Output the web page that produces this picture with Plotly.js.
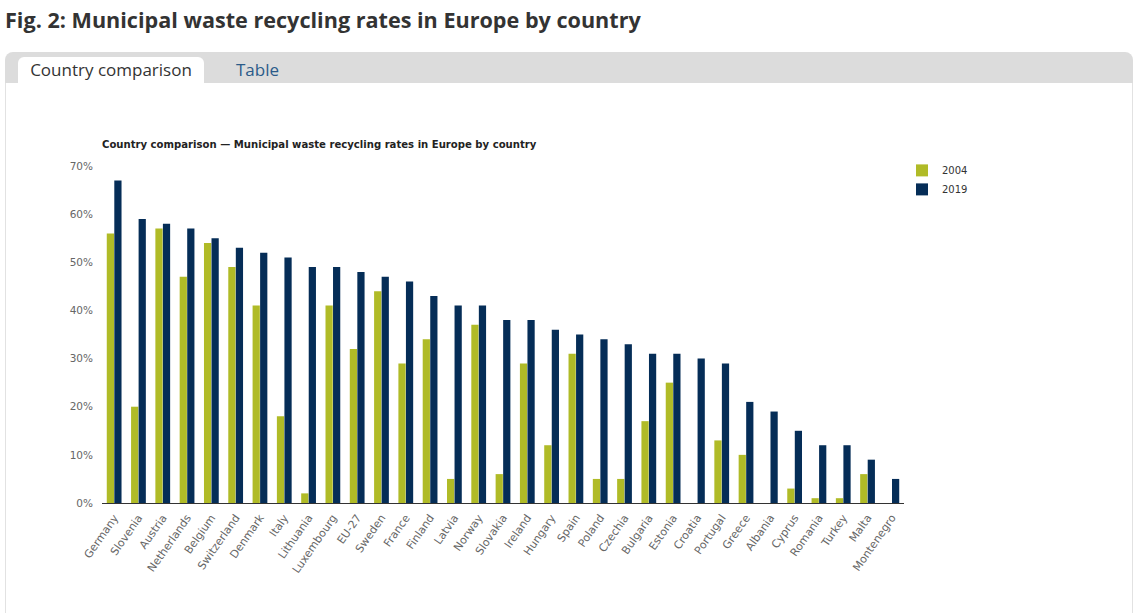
<!DOCTYPE html>
<html>
<head>
<meta charset="utf-8">
<script src="https://cdn.plot.ly/plotly-3.0.1.min.js"></script>
<style>
  html, body { margin:0; padding:0; background:#fff; width:1140px; height:613px; overflow:hidden; }
  #pagetitle { position:absolute; left:5px; top:5px; font-family:"Open Sans", sans-serif; font-weight:bold; font-size:21.6px; color:#333; white-space:nowrap; }
  #tabbar { position:absolute; left:5px; top:52px; width:1128px; height:31px; background:#dcdcdc; border-radius:8px 8px 0 0; }
  #tab1 { position:absolute; left:13px; top:5px; width:186px; height:26px; background:#fff; border-radius:6px 6px 0 0; font-family:"Open Sans", sans-serif; font-size:17px; color:#333; line-height:26px; text-align:center; }
  #tab2 { position:absolute; left:231px; top:5px; height:26px; font-family:"Open Sans", sans-serif; font-size:17px; color:#2b5b8a; line-height:26px; }
  #panel { position:absolute; left:5px; top:83px; width:1126px; height:540px; border-left:1px solid #e2e2e2; border-right:1px solid #e2e2e2; background:#fff; }
  #chart { position:absolute; left:0; top:0; width:1140px; height:613px; }
</style>
</head>
<body>
<div id="pagetitle">Fig. 2: Municipal waste recycling rates in Europe by country</div>
<div id="tabbar"><div id="tab1">Country comparison</div><div id="tab2">Table</div></div>
<div id="panel"></div>
<div id="chart"></div>
<script>
var countries = ["Germany","Slovenia","Austria","Netherlands","Belgium","Switzerland","Denmark","Italy","Lithuania","Luxembourg","EU-27","Sweden","France","Finland","Latvia","Norway","Slovakia","Ireland","Hungary","Spain","Poland","Czechia","Bulgaria","Estonia","Croatia","Portugal","Greece","Albania","Cyprus","Romania","Turkey","Malta","Montenegro"];
var rates2004 = [56,20,57,47,54,49,41,18,2,41,32,44,29,34,5,37,6,29,12,31,5,5,17,25,null,13,10,null,3,1,1,6,null];
var rates2019 = [67,59,58,57,55,53,52,51,49,49,48,47,46,43,41,41,38,38,36,35,34,33,31,31,30,29,21,19,15,12,12,9,5];
var yTicks = [0,10,20,30,40,50,60,70];
var yTickLabels = ["0%","10%","20%","30%","40%","50%","60%","70%"];

var fontFam = "DejaVu Sans, Verdana, sans-serif";
var traces = [
  {type:"bar", name:"2004", x:countries, y:rates2004, marker:{color:"#b0bb27"}, hovertemplate:"%{x}: %{y}%<extra>2004</extra>"},
  {type:"bar", name:"2019", x:countries, y:rates2019, marker:{color:"#052d57"}, hovertemplate:"%{x}: %{y}%<extra>2019</extra>"}
];
var layout = {
  width:1140, height:613,
  paper_bgcolor:"rgba(0,0,0,0)", plot_bgcolor:"rgba(0,0,0,0)",
  margin:{l:102, r:236, t:166, b:110, pad:0},
  barmode:"group", bargap:0.38, bargroupgap:0.04,
  title:{text:"<b>Country comparison — Municipal waste recycling rates in Europe by country</b>",
         font:{family:fontFam, size:10.1, color:"#222"}, xref:"paper", x:0, xanchor:"left",
         yref:"container", y:1-144/613, yanchor:"middle"},
  xaxis:{type:"category", tickangle:-55, showline:true, linecolor:"#333", linewidth:1,
         showgrid:false, zeroline:false, ticks:"", ticklabelstandoff:3, tickfont:{family:fontFam, size:11, color:"#666"}},
  yaxis:{range:[0,70], tickvals:yTicks, ticktext:yTickLabels, showgrid:false, zeroline:false, showline:false,
         ticks:"", ticklabelstandoff:8, tickfont:{family:fontFam, size:10.5, color:"#666"}},
  legend:{x:0.9975, xanchor:"left", y:1.03, yanchor:"top", font:{family:fontFam, size:10, color:"#333"},
          bgcolor:"rgba(0,0,0,0)", tracegroupgap:0},
  showlegend:true
};
Plotly.newPlot("chart", traces, layout, {displayModeBar:false});
</script>
</body>
</html>
